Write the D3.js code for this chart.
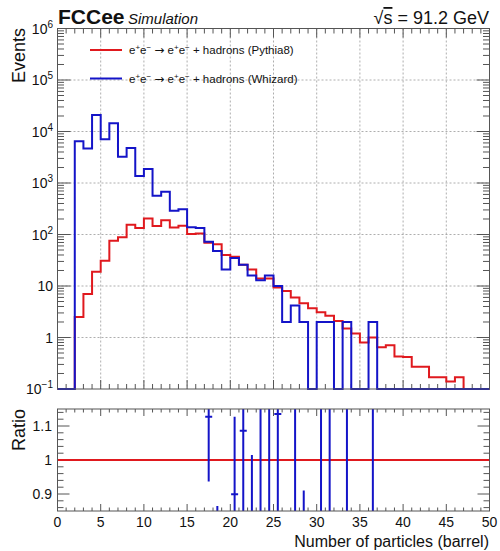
<!DOCTYPE html>
<html>
<head>
<meta charset="utf-8">
<script src="https://cdn.jsdelivr.net/npm/d3@7"></script>
<style>
  body { margin: 0; background: #fff; }
  svg { font-family: 'Liberation Sans', Arial, sans-serif; }
</style>
</head>
<body>
<div id="chart"></div>
<script>
// bin lower edges, width 1
const binLow = [0, 1, 2, 3, 4, 5, 6, 7, 8, 9, 10, 11, 12, 13, 14, 15, 16, 17, 18, 19,
  20, 21, 22, 23, 24, 25, 26, 27, 28, 29, 30, 31, 32, 33, 34, 35, 36, 37, 38, 39,
  40, 41, 42, 43, 44, 45, 46, 47, 48, 49];

const pythia = [0, 0, 2.5, 7, 19, 31, 76, 88, 155, 134, 205, 146, 190, 136, 148, 102, 105, 69, 65, 40,
  37, 26, 21, 14, 14, 9.4, 8, 6, 4.6, 3.7, 3.1, 2.65, 2.1, 1.5, 1.2, 0.8, 1.0, 0.65, 0.71, 0.43,
  0.42, 0.27, 0.27, 0.17, 0.17, 0.14, 0.17, 0, 0, 0];

const whizard = [0, 0, 6500, 4700, 21000, 7100, 14400, 3250, 4800, 1370, 1860, 566, 675, 290, 308, 138, 134, 72, 48, 21,
  35, 26, 16, 13, 16, 10, 2, 4.2, 2, 0, 2, 2, 0, 2, 0, 0, 2, 0, 0, 0,
  0, 0, 0, 0, 0, 0, 0, 0, 0, 0];

// ratio points (Whizard / Pythia8)
const ratioX = [17.5, 18.5, 20.5, 21.5, 22.5, 23.5, 24.5, 25.5, 27.5, 28.5, 30.5, 31.5, 33.5, 36.5];
const ratioVal = [1.127, 0.70, 0.899, 1.086, 0.70, 1.3, 0.6, 1.135, 0.5, 0.55, 0.65, 0.75, 1.3, 2.0];
const ratioErr = [0.19, 0.165, 0.228, 0.5, 0.315, 0.6, 0.6, 0.6, 0.8, 0.36, 0.6, 0.7, 1.2, 2.0];

const yMajor = [1e-1, 1, 10, 1e2, 1e3, 1e4, 1e5, 1e6];
const yLabels = [['10', '−1'], ['1', ''], ['10', ''], ['10', '2'], ['10', '3'], ['10', '4'], ['10', '5'], ['10', '6']];
const xTickLabels = [0, 5, 10, 15, 20, 25, 30, 35, 40, 45, 50];
const ratioTickLabels = [0.9, 1, 1.1];

const legendItems = [
  { name: 'Pythia8', color: '#e0191e' },
  { name: 'Whizard', color: '#1414c8' }
];

const W = 500, H = 551;
const left = 57.5, right = 489.5;
const top1 = 28.5, bottom1 = 389;
const top2 = 409, bottom2 = 511;
const frameColor = '#555';

const svg = d3.select('#chart')
  .append('svg')
  .attr('width', W)
  .attr('height', H);

const x = d3.scaleLinear().domain([0, 50]).range([left, right]);
const y = d3.scaleLog().domain([0.1, 1e6]).range([bottom1, top1]);
const yr = d3.scaleLinear().domain([0.85, 1.15]).range([bottom2, top2]);

// grid in main pad
const grid = svg.append('g')
  .attr('stroke', '#999').attr('stroke-width', 0.8)
  .attr('stroke-dasharray', '2,2');
grid.selectAll('line.gx')
  .data([5, 10, 15, 20, 25, 30, 35, 40, 45])
  .enter().append('line')
  .attr('x1', d => x(d)).attr('x2', d => x(d))
  .attr('y1', top1).attr('y2', bottom1);
grid.selectAll('line.gy')
  .data([1, 10, 1e2, 1e3, 1e4, 1e5])
  .enter().append('line')
  .attr('x1', left).attr('x2', right)
  .attr('y1', d => y(d)).attr('y2', d => y(d));

// ticks helper
function xTicks(yb, yt, majLen, minLen) {
  const g = svg.append('g').attr('stroke', frameColor).attr('stroke-width', 1);
  const ticks = d3.range(1, 50);
  ticks.forEach(t => {
    const len = t % 5 === 0 ? majLen : minLen;
    g.append('line').attr('x1', x(t)).attr('x2', x(t)).attr('y1', yb).attr('y2', yb - len);
    g.append('line').attr('x1', x(t)).attr('x2', x(t)).attr('y1', yt).attr('y2', yt + len);
  });
}
xTicks(bottom1, top1, 9, 5);
xTicks(bottom2, top2, 7, 3.5);

// main y ticks (log)
const gy = svg.append('g').attr('stroke', frameColor).attr('stroke-width', 1);
yMajor.forEach((m, i) => {
  gy.append('line').attr('x1', left).attr('x2', left + 13).attr('y1', y(m)).attr('y2', y(m));
  gy.append('line').attr('x1', right).attr('x2', right - 13).attr('y1', y(m)).attr('y2', y(m));
  if (i < yMajor.length - 1) {
    [2, 3, 4, 5, 6, 7, 8, 9].forEach(k => {
      const v = m * k;
      gy.append('line').attr('x1', left).attr('x2', left + 6.5).attr('y1', y(v)).attr('y2', y(v));
      gy.append('line').attr('x1', right).attr('x2', right - 6.5).attr('y1', y(v)).attr('y2', y(v));
    });
  }
});

// ratio y ticks
const gr = svg.append('g').attr('stroke', frameColor).attr('stroke-width', 1);
d3.range(0.86, 1.1401, 0.02).forEach(v => {
  const major = Math.abs(v * 10 - Math.round(v * 10)) < 1e-6;
  const len = major ? 12 : 6;
  gr.append('line').attr('x1', left).attr('x2', left + len).attr('y1', yr(v)).attr('y2', yr(v));
  gr.append('line').attr('x1', right).attr('x2', right - len).attr('y1', yr(v)).attr('y2', yr(v));
});

// histograms
function histPath(vals) {
  const ymin = 0.1;
  const pts = [];
  binLow.forEach((b, i) => {
    const v = Math.max(vals[i], ymin);
    pts.push([x(b), y(v)]);
    pts.push([x(b + 1), y(v)]);
  });
  return d3.line()(pts);
}

svg.append('path')
  .attr('d', histPath(pythia))
  .attr('fill', 'none')
  .attr('stroke', legendItems[0].color)
  .attr('stroke-width', 2);

svg.append('path')
  .attr('d', histPath(whizard))
  .attr('fill', 'none')
  .attr('stroke', legendItems[1].color)
  .attr('stroke-width', 2);

// ratio pad
svg.append('clipPath').attr('id', 'rclip')
  .append('rect')
  .attr('x', left).attr('y', top2)
  .attr('width', right - left).attr('height', bottom2 - top2);

const rp = svg.append('g').attr('clip-path', 'url(#rclip)');
rp.append('line')
  .attr('x1', left).attr('x2', right)
  .attr('y1', yr(1)).attr('y2', yr(1))
  .attr('stroke', legendItems[0].color).attr('stroke-width', 2);

rp.selectAll('line.err')
  .data(ratioX)
  .enter().append('line')
  .attr('x1', d => x(d)).attr('x2', d => x(d))
  .attr('y1', (d, i) => yr(ratioVal[i] + ratioErr[i]))
  .attr('y2', (d, i) => yr(ratioVal[i] - ratioErr[i]))
  .attr('stroke', legendItems[1].color).attr('stroke-width', 2);

rp.selectAll('line.mk')
  .data(ratioX)
  .enter().append('line')
  .attr('x1', d => x(d) - 3.5).attr('x2', d => x(d) + 3.5)
  .attr('y1', (d, i) => yr(ratioVal[i]))
  .attr('y2', (d, i) => yr(ratioVal[i]))
  .attr('stroke', legendItems[1].color).attr('stroke-width', 2);

// frames
[[top1, bottom1], [top2, bottom2]].forEach(([t, b]) => {
  svg.append('rect')
    .attr('x', left).attr('y', t)
    .attr('width', right - left).attr('height', b - t)
    .attr('fill', 'none').attr('stroke', frameColor).attr('stroke-width', 1);
});

// y labels main
const ylab = svg.append('g').attr('font-size', 14).attr('fill', '#111');
yMajor.forEach((m, i) => {
  const [base, sup] = yLabels[i];
  const t = ylab.append('text')
    .attr('x', 53).attr('y', y(m) + 5)
    .attr('text-anchor', 'end');
  t.append('tspan').text(base);
  if (sup) {
    t.append('tspan').attr('dy', -6).attr('font-size', 10).text(sup);
  }
});

// ratio y labels
svg.append('g').selectAll('text')
  .data(ratioTickLabels)
  .enter().append('text')
  .attr('x', 52).attr('y', d => yr(d) + 5)
  .attr('text-anchor', 'end')
  .attr('font-size', 14).attr('fill', '#111')
  .text(d => d);

// x labels
svg.append('g').selectAll('text')
  .data(xTickLabels)
  .enter().append('text')
  .attr('x', d => x(d)).attr('y', 527)
  .attr('text-anchor', 'middle')
  .attr('font-size', 14).attr('fill', '#111')
  .text(d => d);

// axis titles
svg.append('text')
  .attr('x', 489).attr('y', 547)
  .attr('text-anchor', 'end')
  .attr('font-size', 16).attr('fill', '#111')
  .text('Number of particles (barrel)');

svg.append('text')
  .attr('transform', 'translate(25,28) rotate(-90)')
  .attr('text-anchor', 'end')
  .attr('font-size', 18).attr('fill', '#111')
  .text('Events');

svg.append('text')
  .attr('transform', 'translate(25,409) rotate(-90)')
  .attr('text-anchor', 'end')
  .attr('font-size', 18).attr('fill', '#111')
  .text('Ratio');

// header
svg.append('text')
  .attr('x', 58).attr('y', 24)
  .attr('font-size', 21).attr('font-weight', 'bold').attr('fill', '#111')
  .text('FCCee');
svg.append('text')
  .attr('x', 128).attr('y', 24)
  .attr('font-size', 15).attr('font-style', 'italic').attr('fill', '#111')
  .text('Simulation');

const sq = svg.append('text')
  .attr('x', 489).attr('y', 24)
  .attr('text-anchor', 'end')
  .attr('font-size', 18).attr('fill', '#111');
sq.append('tspan').text('√');
sq.append('tspan').attr('text-decoration', 'overline').text('s');
sq.append('tspan').text(' = 91.2 GeV');

// legend
const legend = svg.append('g');
legendItems.forEach((d, i) => {
  const ly = 50 + i * 28.5;
  legend.append('line')
    .attr('x1', 90).attr('x2', 122)
    .attr('y1', ly).attr('y2', ly)
    .attr('stroke', d.color).attr('stroke-width', 2);
  const t = legend.append('text')
    .attr('x', 129).attr('y', ly + 4)
    .attr('font-size', 11.5).attr('fill', '#111');
  t.append('tspan').text('e');
  t.append('tspan').attr('dy', -4).attr('font-size', 8).text('+');
  t.append('tspan').attr('dy', 4).text('e');
  t.append('tspan').attr('dy', -4).attr('font-size', 8).text('−');
  t.append('tspan').attr('dy', 4).text(' ');
  t.append('tspan').attr('font-family', 'DejaVu Sans').attr('font-size', 12).text('→');
  t.append('tspan').text(' e');
  t.append('tspan').attr('dy', -4).attr('font-size', 8).text('+');
  t.append('tspan').attr('dy', 4).text('e');
  t.append('tspan').attr('dy', -4).attr('font-size', 8).text('−');
  t.append('tspan').attr('dy', 4).text(' + hadrons (' + d.name + ')');
});
</script>
</body>
</html>
